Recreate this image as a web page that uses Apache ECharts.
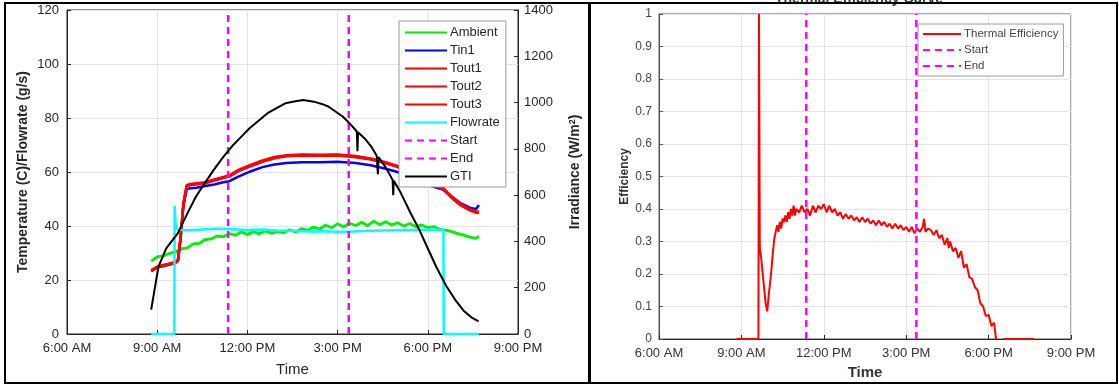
<!DOCTYPE html>
<html>
<head>
<meta charset="utf-8">
<script src="https://cdn.jsdelivr.net/npm/echarts@6/dist/echarts.min.js"></script>
<style>
  html, body { margin: 0; padding: 0; background: #fff; }
  #main { width: 1119px; height: 385px; }
</style>
</head>
<body>
<div id="main"></div>
<script>
// time in hours of day, 6 = 6:00 AM, 21 = 9:00 PM
const xTicks = [6, 9, 12, 15, 18, 21];
const startHour = 11.36;
const endHour = 15.37;

const ambientHours = [8.8, 9.0, 9.2, 9.4, 9.6, 9.8, 10.0, 10.2, 10.4, 10.6, 10.8, 11.0, 11.2, 11.4, 11.6, 11.8, 12.0, 12.2, 12.4, 12.6, 12.8, 13.0, 13.2, 13.4, 13.6, 13.8, 14.0, 14.2, 14.4, 14.6, 14.8, 15.0, 15.2, 15.4, 15.6, 15.8, 16.0, 16.2, 16.4, 16.6, 16.8, 17.0, 17.2, 17.4, 17.6, 17.8, 18.0, 18.2, 18.4, 18.6, 18.8, 19.0, 19.2, 19.4, 19.6, 19.7];
const ambient = [27.0, 28.6, 28.9, 29.8, 30.4, 31.5, 31.9, 33.4, 33.6, 35.0, 35.2, 36.3, 36.0, 37.2, 36.6, 37.8, 36.9, 37.9, 37.1, 38.2, 37.3, 38.0, 37.5, 38.6, 37.8, 39.0, 38.4, 39.6, 38.9, 40.3, 39.4, 40.8, 39.7, 41.0, 40.2, 41.4, 40.1, 41.8, 40.5, 41.6, 40.4, 41.2, 40.0, 40.9, 39.7, 40.4, 39.4, 39.8, 38.7, 38.5, 37.9, 37.2, 36.6, 35.9, 35.4, 36.2];

const tempHours = [8.8, 9.0, 9.3, 9.6, 9.69, 9.78, 9.87, 9.98, 10.1, 10.3, 10.6, 10.9, 11.2, 11.4, 11.7, 12.1, 12.5, 12.9, 13.3, 13.8, 14.4, 15.0, 15.6, 16.1, 16.6, 17.0, 17.5, 18.0, 18.5, 18.8, 19.1, 19.4, 19.6, 19.7];
const tin1 = [23.3, 24.6, 25.4, 26.3, 27.0, 35.5, 47.0, 53.5, 54.0, 54.2, 54.8, 55.4, 56.2, 56.6, 58.3, 60.2, 61.8, 62.8, 63.3, 63.6, 63.6, 63.8, 63.3, 62.5, 61.2, 60.0, 57.8, 55.2, 53.5, 50.8, 48.4, 46.8, 46.2, 47.8];
const tout1 = [23.5, 24.8, 25.6, 26.5, 27.3, 36.0, 48.0, 54.8, 55.4, 55.6, 56.0, 57.0, 58.0, 58.5, 60.5, 62.3, 64.0, 65.3, 66.0, 66.3, 66.2, 66.3, 65.7, 64.8, 63.4, 62.0, 59.5, 56.5, 54.0, 50.5, 47.8, 46.0, 45.2, 45.0];
const tout2 = [23.7, 25.0, 25.8, 26.7, 27.5, 36.4, 48.4, 55.1, 55.6, 55.8, 56.2, 57.2, 58.2, 58.8, 60.8, 62.6, 64.3, 65.6, 66.2, 66.5, 66.4, 66.5, 65.9, 65.0, 63.6, 62.2, 59.7, 56.8, 54.3, 50.8, 48.1, 46.3, 45.5, 45.3];
const tout3 = [23.4, 24.7, 25.5, 26.4, 27.2, 35.8, 47.8, 54.6, 55.2, 55.4, 55.8, 56.8, 57.8, 58.3, 60.3, 62.1, 63.8, 65.1, 65.8, 66.1, 66.0, 66.1, 65.5, 64.6, 63.2, 61.8, 59.3, 56.3, 53.8, 50.3, 47.6, 45.8, 45.0, 44.8];

const flowHours = [8.8, 9.57, 9.58, 9.62, 9.7, 10.0, 10.5, 11.0, 11.5, 12.0, 12.5, 13.0, 13.5, 14.0, 14.5, 15.0, 15.5, 16.0, 16.5, 17.0, 17.5, 18.0, 18.52, 18.53, 19.7];
const flowrate = [0, 0, 47.5, 39.5, 38.6, 38.4, 38.7, 39.0, 38.8, 38.5, 38.7, 38.3, 38.2, 38.0, 38.1, 37.9, 38.0, 38.2, 38.3, 38.4, 38.5, 38.6, 38.6, 0, 0];

const gtiHours = [8.8, 9.04, 9.3, 9.69, 10.0, 10.29, 10.6, 10.88, 11.2, 11.48, 11.8, 12.07, 12.4, 12.67, 13.0, 13.26, 13.6, 13.86, 14.21, 14.5, 14.69, 15.0, 15.17, 15.4, 15.64, 15.66, 15.68, 15.9, 16.12, 16.3, 16.34, 16.36, 16.6, 16.83, 16.85, 16.87, 17.1, 17.43, 17.7, 18.02, 18.3, 18.62, 18.9, 19.21, 19.45, 19.69];
const gti = [105, 290, 370, 436, 520, 594, 655, 709, 765, 810, 853, 889, 925, 954, 978, 997, 1006, 1011, 1004, 993, 983, 955, 940, 910, 875, 790, 872, 845, 810, 770, 690, 765, 720, 666, 600, 662, 610, 522, 455, 364, 285, 206, 150, 98, 72, 55];

const effHours = [8.81, 9.62, 9.64, 9.67, 9.72, 9.8, 9.88, 9.94, 10.0, 10.08, 10.15, 10.2, 10.25, 10.3, 10.35, 10.4, 10.45, 10.5, 10.55, 10.6, 10.65, 10.7, 10.75, 10.8, 10.85, 10.9, 10.95, 11.0, 11.1, 11.2, 11.3, 11.4, 11.5, 11.6, 11.7, 11.8, 11.9, 12.0, 12.1, 12.2, 12.3, 12.4, 12.5, 12.6, 12.7, 12.8, 12.9, 13.0, 13.1, 13.2, 13.3, 13.4, 13.5, 13.6, 13.7, 13.8, 13.9, 14.0, 14.1, 14.2, 14.3, 14.4, 14.5, 14.6, 14.7, 14.8, 14.9, 15.0, 15.1, 15.2, 15.3, 15.4, 15.5, 15.6, 15.65, 15.7, 15.8, 15.9, 16.0, 16.1, 16.2, 16.3, 16.4, 16.5, 16.55, 16.6, 16.7, 16.8, 16.9, 17.0, 17.1, 17.2, 17.3, 17.4, 17.5, 17.6, 17.7, 17.8, 17.9, 18.0, 18.1, 18.2, 18.27, null, 18.53, 19.65];
const efficiency = [0, 0, 1.0, 0.28, 0.25, 0.18, 0.11, 0.085, 0.14, 0.2, 0.27, 0.31, 0.33, 0.35, 0.33, 0.36, 0.34, 0.37, 0.36, 0.38, 0.36, 0.39, 0.37, 0.40, 0.38, 0.41, 0.38, 0.40, 0.39, 0.41, 0.39, 0.40, 0.38, 0.41, 0.39, 0.41, 0.40, 0.415, 0.39, 0.41, 0.39, 0.40, 0.38, 0.39, 0.37, 0.385, 0.37, 0.38, 0.365, 0.375, 0.36, 0.375, 0.36, 0.37, 0.355, 0.365, 0.35, 0.365, 0.35, 0.36, 0.345, 0.355, 0.34, 0.355, 0.34, 0.35, 0.335, 0.345, 0.33, 0.345, 0.325, 0.34, 0.33, 0.345, 0.37, 0.33, 0.34, 0.335, 0.32, 0.335, 0.31, 0.32, 0.29, 0.31, 0.28, 0.30, 0.27, 0.28, 0.25, 0.27, 0.22, 0.23, 0.19, 0.185, 0.16, 0.15, 0.11, 0.10, 0.07, 0.075, 0.04, 0.05, 0, null, 0, 0];

const zip = (xs, ys) => xs.map((x, i) => (x === null ? [null, null] : [x, ys[i]]));

const timeLabel = h => {
  const hr = h % 12 === 0 ? 12 : h % 12;
  return hr + ':00 ' + (h < 12 ? 'AM' : 'PM');
};

const font = "'Liberation Sans', Arial, sans-serif";
const axisDark = '#262626';

function xAxisFor(gridIndex, nameBold, color, gap) {
  return {
    type: 'value', gridIndex: gridIndex, min: 6, max: 21, interval: 3,
    name: 'Time', nameLocation: 'middle', nameGap: gap,
    nameTextStyle: { fontFamily: font, fontSize: 15, color: color, fontWeight: nameBold ? 'bold' : 'normal' },
    axisLine: { lineStyle: { color: axisDark } },
    axisTick: { inside: true, length: 4, lineStyle: { color: axisDark } },
    axisLabel: { formatter: timeLabel, fontFamily: font, fontSize: 13, color: color, margin: 8 },
    splitLine: { show: true, lineStyle: { color: '#e4e4e4' } }
  };
}

const line = (name, data, color, width, extra) => Object.assign({
  name: name, type: 'line', data: data, symbol: 'none', showSymbol: false,
  xAxisIndex: 0, yAxisIndex: 0, lineStyle: { color: color, width: width }, itemStyle: { color: color },
  z: 3
}, extra || {});

const dashStyle = { color: '#ff00ff', width: 2.5, type: [7, 5] };

const chart = echarts.init(document.getElementById('main'));
chart.setOption({
  animation: false,
  backgroundColor: '#fff',
  title: {
    text: 'Thermal Efficiency Curve', left: 770, top: -13,
    textStyle: { fontFamily: font, fontSize: 14, fontWeight: 'bold', color: '#333' }
  },
  grid: [
    { left: 67, right: 601, top: 10, bottom: 51, show: true, borderColor: axisDark, borderWidth: 1 },
    { left: 659, right: 48, top: 14, bottom: 46, show: true, borderColor: '#555', borderWidth: 1 }
  ],
  xAxis: [xAxisFor(0, false, axisDark, 28), xAxisFor(1, true, '#333', 26)],
  yAxis: [
    {
      type: 'value', gridIndex: 0, min: 0, max: 120, interval: 20, position: 'left',
      name: 'Temperature (C)/Flowrate (g/s)', nameLocation: 'middle', nameGap: 37,
      nameTextStyle: { fontFamily: font, fontSize: 14, fontWeight: 'bold', color: axisDark },
      axisLine: { show: true, lineStyle: { color: axisDark } },
      axisTick: { show: true, inside: true, length: 4, lineStyle: { color: axisDark } },
      axisLabel: { fontFamily: font, fontSize: 13, color: axisDark, margin: 8 },
      splitLine: { show: true, lineStyle: { color: '#e4e4e4' } }
    },
    {
      type: 'value', gridIndex: 0, min: 0, max: 1400, interval: 200, position: 'right',
      name: 'Irradiance (W/m{sup|2})', nameLocation: 'middle', nameGap: 50, nameRotate: 90,
      nameTextStyle: {
        fontFamily: font, fontSize: 14, fontWeight: 'bold', color: axisDark,
        rich: { sup: { fontFamily: font, fontSize: 9, fontWeight: 'bold', color: axisDark, verticalAlign: 'top', padding: [0, 0, 6, 0] } }
      },
      axisLine: { show: true, lineStyle: { color: axisDark } },
      axisTick: { show: true, inside: true, length: 4, lineStyle: { color: axisDark } },
      axisLabel: { fontFamily: font, fontSize: 13, color: axisDark, margin: 6, formatter: v => String(v) },
      splitLine: { show: false }
    },
    {
      type: 'value', gridIndex: 1, min: 0, max: 1, interval: 0.1,
      name: 'Efficiency', nameLocation: 'middle', nameGap: 28,
      nameTextStyle: { fontFamily: font, fontSize: 12, fontWeight: 'bold', color: '#333' },
      axisLine: { show: true, lineStyle: { color: '#555' } },
      axisTick: { show: true, inside: true, length: 4, lineStyle: { color: '#555' } },
      axisLabel: { fontFamily: font, fontSize: 12, color: '#444', margin: 7 },
      splitLine: { show: true, lineStyle: { color: '#e4e4e4' } }
    }
  ],
  legend: [
    {
      data: ['Ambient', 'Tin1', 'Tout1', 'Tout2', 'Tout3', 'Flowrate', 'Start', 'End', 'GTI'],
      orient: 'vertical', left: 399, top: 21, itemWidth: 42, itemHeight: 12, itemGap: 5,
      padding: [5, 6, 4, 5], backgroundColor: '#fff', borderColor: '#999', borderWidth: 1,
      selectedMode: false, itemStyle: { opacity: 0 },
      textStyle: { fontFamily: font, fontSize: 13, color: axisDark, padding: [0, 0, 0, -2] }
    },
    {
      data: ['Thermal Efficiency', 'Start', 'End'],
      orient: 'vertical', left: 918, top: 24, itemWidth: 38, itemHeight: 10, itemGap: 4,
      padding: [4, 5, 4, 4], backgroundColor: '#fff', borderColor: '#999', borderWidth: 1,
      selectedMode: false, itemStyle: { opacity: 0 },
      textStyle: { fontFamily: font, fontSize: 11.5, color: '#444', padding: [0, 0, 0, -2] }
    }
  ],
  graphic: [
    { type: 'rect', shape: { x: 5, y: 3, width: 584, height: 380 }, style: { fill: 'none', stroke: '#000', lineWidth: 2 }, z: 100 },
    { type: 'rect', shape: { x: 590, y: 3, width: 527, height: 380 }, style: { fill: 'none', stroke: '#000', lineWidth: 2 }, z: 100 }
  ],
  series: [
    line('Ambient', zip(ambientHours, ambient), '#00ee00', 2.8),
    line('Tin1', zip(tempHours, tin1), '#0000ff', 2.5),
    line('Tout1', zip(tempHours, tout1), '#ff0000', 2.5),
    line('Tout2', zip(tempHours, tout2), '#ff0000', 2.5),
    line('Tout3', zip(tempHours, tout3), '#ff0000', 2.5),
    line('Flowrate', zip(flowHours, flowrate), '#00ffff', 2.5),
    line('Start', [[startHour, 0], [startHour, 120]], '#ff00ff', 2.5, { lineStyle: dashStyle }),
    line('End', [[endHour, 0], [endHour, 120]], '#ff00ff', 2.5, { lineStyle: dashStyle }),
    line('GTI', zip(gtiHours, gti), '#000000', 2, { yAxisIndex: 1, z: 4 }),
    line('Thermal Efficiency', zip(effHours, efficiency), '#ff0000', 2, { xAxisIndex: 1, yAxisIndex: 2, connectNulls: false }),
    line('Start', [[startHour, 0], [startHour, 1]], '#ff00ff', 2.5, { xAxisIndex: 1, yAxisIndex: 2, lineStyle: dashStyle }),
    line('End', [[endHour, 0], [endHour, 1]], '#ff00ff', 2.5, { xAxisIndex: 1, yAxisIndex: 2, lineStyle: dashStyle })
  ]
});
</script>
</body>
</html>
